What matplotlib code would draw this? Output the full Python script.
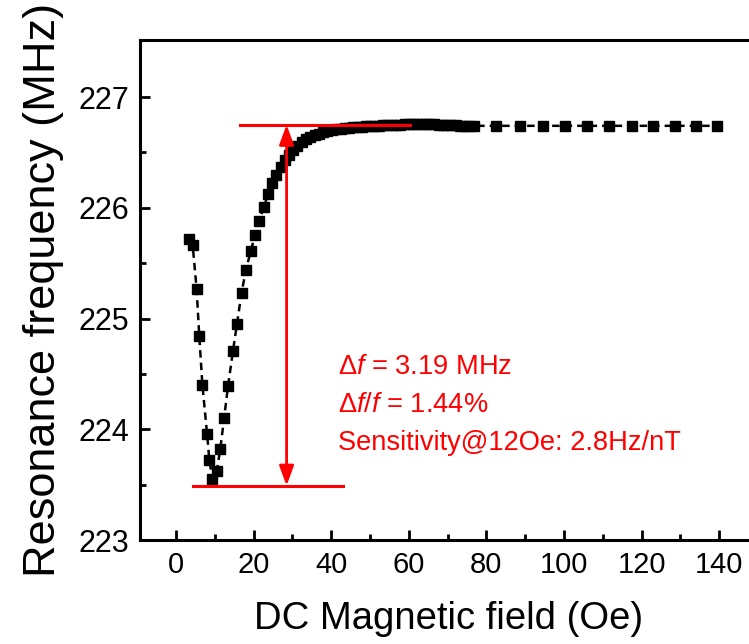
import matplotlib
matplotlib.use("Agg")
import matplotlib.pyplot as plt

plt.rcParams['font.family'] = ['Liberation Sans', 'DejaVu Sans']
plt.rcParams['mathtext.fontset'] = 'custom'
plt.rcParams['mathtext.rm'] = 'Liberation Sans'
plt.rcParams['mathtext.it'] = 'Liberation Sans:italic'

# Data
field_oe = [3.4, 4.3, 5.3, 6.0, 6.8, 8.0, 8.6, 9.4, 10.5, 11.4, 12.4, 13.4, 14.7,
            15.7, 16.9, 18.0, 19.3, 20.3, 21.4, 22.7, 23.7, 24.8, 25.9, 27.0, 28.0,
            29.1, 30.2, 31.3, 32.4, 33.5, 34.6, 35.7, 36.8, 38.0, 39.0, 40.2, 41.3,
            42.4, 43.5, 44.6, 45.7, 46.8, 47.9, 49.0, 50.1, 51.2, 52.3, 53.4, 54.5,
            55.6, 56.7, 57.8, 58.9, 60.0, 61.1, 62.2, 63.3, 64.4, 65.5, 66.6, 67.7,
            68.8, 69.9, 71.0, 72.1, 73.2, 74.3, 75.4, 76.8, 82.6, 88.7, 94.5, 100.3,
            106.0, 111.7, 117.4, 122.9, 128.6, 134.0, 139.5]
freq_mhz = [225.72, 225.66, 225.27, 224.84, 224.40, 223.96, 223.72, 223.55, 223.62,
            223.82, 224.10, 224.39, 224.71, 224.95, 225.23, 225.44, 225.61, 225.75,
            225.88, 226.01, 226.12, 226.22, 226.30, 226.37, 226.43, 226.48, 226.52,
            226.56, 226.59, 226.62, 226.64, 226.66, 226.67, 226.68, 226.69, 226.70,
            226.71, 226.715, 226.72, 226.72, 226.73, 226.73, 226.73, 226.735, 226.74,
            226.74, 226.74, 226.745, 226.745, 226.75, 226.75, 226.75, 226.755, 226.76,
            226.76, 226.76, 226.76, 226.76, 226.755, 226.755, 226.75, 226.75, 226.75,
            226.745, 226.745, 226.74, 226.74, 226.74, 226.74, 226.74, 226.74, 226.74,
            226.74, 226.74, 226.74, 226.74, 226.74, 226.74, 226.74, 226.74]

x_ticks = [0, 20, 40, 60, 80, 100, 120, 140]
y_ticks = [223, 224, 225, 226, 227]

top_level = 226.75
bottom_level = 223.49
arrow_x = 28.5
top_line = (16.5, 60.3)
bottom_line = (4.5, 43.0)
notes = [r'$\Delta\mathit{f}$ = 3.19 MHz',
         r'$\Delta\mathit{f}/\mathit{f}$ = 1.44%',
         'Sensitivity@12Oe: 2.8Hz/nT']
note_y = [224.565, 224.22, 223.875]

fig = plt.figure(figsize=(7.49, 6.44), dpi=100)
ax = fig.add_axes([140/749, 1 - 540/644, (758 - 140)/749, (540 - 40)/644])

ax.plot(field_oe, freq_mhz, color='black', linestyle=(0, (3, 2)), lw=1.8,
        marker='s', markersize=6.8, markerfacecolor='black', markeredgecolor='black')

ax.plot(list(top_line), [top_level, top_level], color='red', lw=2.2)
ax.plot(list(bottom_line), [bottom_level, bottom_level], color='red', lw=2.2)
ax.annotate('', xy=(arrow_x, bottom_level), xytext=(arrow_x, top_level),
            arrowprops=dict(arrowstyle='<|-|>,head_length=0.6,head_width=0.22',
                            mutation_scale=20, color='red', lw=2,
                            shrinkA=0, shrinkB=0))

for t, yy in zip(notes, note_y):
    ax.text(41.75, yy, t, color='red', fontsize=19.6, va='center', ha='left')

ax.set_xlim(-9.28, 150)
ax.set_ylim(223, 227.515)
ax.set_xticks(x_ticks)
ax.set_yticks(y_ticks)
ax.set_xticks([10, 30, 50, 70, 90, 110, 130], minor=True)
ax.set_yticks([223.5, 224.5, 225.5, 226.5], minor=True)
ax.set_xticklabels([str(v) for v in x_ticks], fontsize=21)
ax.set_yticklabels([str(v) for v in y_ticks], fontsize=22)
ax.tick_params(which='major', direction='in', length=7, width=2, pad=8)
ax.tick_params(which='minor', direction='in', length=4, width=2)
ax.tick_params(top=False, right=False, which='both')
for s in ax.spines.values():
    s.set_linewidth(2.2)

ax.set_xlabel('DC Magnetic field (Oe)', fontsize=27.5, labelpad=16)
ax.set_ylabel('Resonance frequency (MHz)', fontsize=32.5, labelpad=10)

fig.savefig('out.png', dpi=100)
